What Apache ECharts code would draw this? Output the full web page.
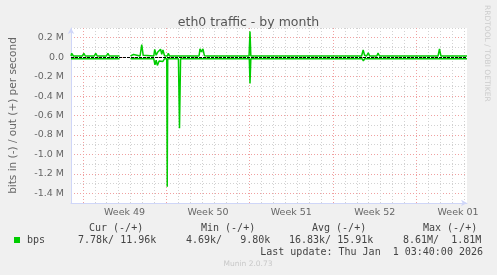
<!DOCTYPE html>
<html><head><meta charset="utf-8">
<script src="https://cdn.jsdelivr.net/npm/echarts@6/dist/echarts.min.js"></script>
<style>html,body{margin:0;padding:0;background:#f0f0f0}#c{width:497px;height:275px}</style>
</head><body><div id="c"></div>
<script>
const titleText = 'eth0 traffic - by month';
const yAxisTitle = 'bits in (-) / out (+) per second';
const weekLabels = ['Week 49', 'Week 50', 'Week 51', 'Week 52', 'Week 01'];
const yTickValues = [200000, 0, -200000, -400000, -600000, -800000, -1000000, -1200000, -1400000];
const yTickLabels = ['0.2 M', '0.0', '-0.2 M', '-0.4 M', '-0.6 M', '-0.8 M', '-1.0 M', '-1.2 M', '-1.4 M'];

// [day offset from left edge, kbps]  (null = no data)
const outPoints = [
  [0, 12], [0.06, 40], [0.2, 12],
  [0.95, 12], [1.08, 38], [1.2, 12],
  [1.95, 12], [2.08, 38], [2.2, 12],
  [2.97, 12], [3.1, 38], [3.22, 12],
  [4.08, 12], [4.09, null],
  [5.0, 12], [5.12, 12], [5.25, 28], [5.38, 12],
  [5.8, 12], [5.94, 128], [6.06, 20], [6.2, 12],
  [6.95, 12], [7.03, 80], [7.15, 20], [7.27, 50], [7.4, 30], [7.52, 82], [7.62, 30], [7.72, 75], [7.85, 15],
  [8.0, 30], [8.1, 12], [8.17, 40], [8.28, 12], [8.44, 30], [8.55, 12],
  [9.6, 12], [9.69, 25], [9.8, 12],
  [10.35, 12], [10.44, 25], [10.55, 12],
  [10.75, 12], [10.83, 85], [10.95, 55], [11.08, 85], [11.2, 15], [11.36, 25], [11.48, 12],
  [12.0, 12], [12.11, 22], [12.22, 12],
  [12.95, 12], [13.08, 32], [13.2, 12],
  [13.55, 12], [13.64, 22], [13.75, 12],
  [14.95, 12], [15.03, 265], [15.1, 12],
  [16.6, 12], [16.69, 22], [16.8, 12],
  [18.9, 12], [19.0, 20], [19.1, 12],
  [24.4, 12], [24.53, 75], [24.65, 20], [24.82, 12], [24.96, 45], [25.08, 12],
  [25.68, 12], [25.78, 42], [25.9, 12],
  [30.82, 12], [30.94, 85], [31.06, 12],
  [33.25, 12]
];
const inPoints = [
  [0, -17], [4.08, -17], [4.09, null],
  [5.0, -17], [5.85, -17], [5.94, -30], [6.05, -17],
  [6.95, -17], [7.05, -80], [7.15, -30], [7.25, -85], [7.4, -40], [7.55, -60], [7.7, -45], [7.85, -17],
  [8.04, -17], [8.08, -1334], [8.12, -17],
  [9.02, -17], [9.11, -730], [9.2, -17],
  [10.85, -17], [10.95, -25], [11.05, -17],
  [14.97, -17], [15.03, -270], [15.1, -17],
  [24.45, -17], [24.55, -38], [24.65, -17],
  [25.7, -17], [25.8, -22], [25.9, -17],
  [30.85, -17], [30.94, -20], [31.05, -17],
  [33.25, -17]
];

const legendHeaders = ['Cur (-/+)', 'Min (-/+)', 'Avg (-/+)', 'Max (-/+)'];
const legendName = 'bps';
const legendValues = ['7.78k/ 11.96k', '4.69k/   9.80k', '16.83k/ 15.91k', '8.61M/  1.81M'];
const lastUpdate = 'Last update: Thu Jan  1 03:40:00 2026';
const footerText = 'Munin 2.0.73';
const sideText = 'RRDTOOL / TOBI OETIKER';

const GREEN = '#00cc00';
const GRAY = '#d2d2d2';
const RED = '#f0a0a0';
const T = 'rgba(0,0,0,0)';
const toBps = p => [p[0], p[1] === null ? '-' : p[1] * 1000];

const headerX = [89, 201, 312, 423];
const valueX = [78, 186, 289, 403];
const mono = 'DejaVu Sans Mono';
const graphic = [];
legendHeaders.forEach((t, i) => graphic.push({type: 'text', x: headerX[i], y: 228, style: {text: t, font: '10px "' + mono + '"', fill: '#444', verticalAlign: 'middle'}}));
graphic.push({type: 'rect', shape: {x: 14, y: 237, width: 6, height: 6}, style: {fill: GREEN}});
graphic.push({type: 'text', x: 27, y: 240, style: {text: legendName, font: '10px "' + mono + '"', fill: '#444', verticalAlign: 'middle'}});
legendValues.forEach((t, i) => graphic.push({type: 'text', x: valueX[i], y: 240, style: {text: t, font: '10px "' + mono + '"', fill: '#444', verticalAlign: 'middle'}}));
graphic.push({type: 'text', x: 483, y: 252, style: {text: lastUpdate, font: '10px "' + mono + '"', fill: '#444', align: 'right', verticalAlign: 'middle'}});
graphic.push({type: 'text', x: 248, y: 264, style: {text: footerText, font: '7.5px "DejaVu Sans"', fill: '#c8c8c8', align: 'center', verticalAlign: 'middle'}});
graphic.push({type: 'text', x: 487, y: 5, rotation: -Math.PI / 2, style: {text: sideText, font: '7.5px "DejaVu Sans"', fill: '#cccccc', align: 'left', verticalAlign: 'middle'}});

const chart = echarts.init(document.getElementById('c'), null, {renderer: 'canvas'});
chart.setOption({
  animation: false,
  backgroundColor: '#f0f0f0',
  title: {text: titleText, left: 'center', top: 11, textStyle: {fontFamily: 'DejaVu Sans', fontSize: 12.5, fontWeight: 'normal', color: '#555'}},
  grid: {left: 68, right: 30, top: 28, bottom: 72, show: true, backgroundColor: '#ffffff', borderWidth: 0},
  xAxis: {
    type: 'value', min: 0, max: 33.25, interval: 0.5,
    axisLine: {show: true, onZero: false, lineStyle: {color: '#cfd6f8', width: 1}, symbol: ['none', 'arrow'], symbolSize: [5, 6]},
    axisTick: {show: false},
    axisLabel: {
      margin: 5, color: '#666', fontFamily: 'DejaVu Sans', fontSize: 9.5, hideOverlap: false,
      showMinLabel: true, showMaxLabel: false,
      formatter: v => { const k = (v - 4.5) / 7; const r = Math.round(k); return (Math.abs(k - r) < 1e-6 && r >= 0 && r < weekLabels.length) ? weekLabels[r] : ''; }
    },
    splitLine: {show: true, lineStyle: {type: [1, 2], width: 1, color: [GRAY, T, RED, T, GRAY, T, GRAY, T, GRAY, T, GRAY, T, GRAY, T]}}
  },
  yAxis: {
    type: 'value', min: -1500000, max: 300000, interval: 100000,
    name: yAxisTitle, nameLocation: 'middle', nameGap: 52, nameRotate: 90,
    nameTextStyle: {fontFamily: 'DejaVu Sans', fontSize: 10.5, color: '#666'},
    axisLine: {show: true, onZero: false, lineStyle: {color: '#cfd6f8', width: 1}, symbol: ['none', 'arrow'], symbolSize: [5, 6]},
    axisTick: {show: false},
    axisLabel: {
      margin: 7, color: '#666', fontFamily: 'DejaVu Sans', fontSize: 9.5,
      formatter: v => { const i = yTickValues.indexOf(Math.round(v)); return i >= 0 ? yTickLabels[i] : ''; }
    },
    splitLine: {show: true, lineStyle: {type: [1, 2], width: 1, color: [GRAY, RED]}}
  },
  series: [
    {type: 'line', name: 'out', data: outPoints.map(toBps), showSymbol: false, symbol: 'none', connectNulls: false,
     lineStyle: {color: GREEN, width: 1.5}, z: 3,
     markLine: {silent: true, symbol: 'none', label: {show: false}, lineStyle: {color: '#000', width: 1, type: [3, 1]}, data: [{yAxis: 0}]}},
    {type: 'line', name: 'in', data: inPoints.map(toBps), showSymbol: false, symbol: 'none', connectNulls: false,
     lineStyle: {color: GREEN, width: 1.5}, z: 3}
  ],
  graphic: graphic
});
</script></body></html>
